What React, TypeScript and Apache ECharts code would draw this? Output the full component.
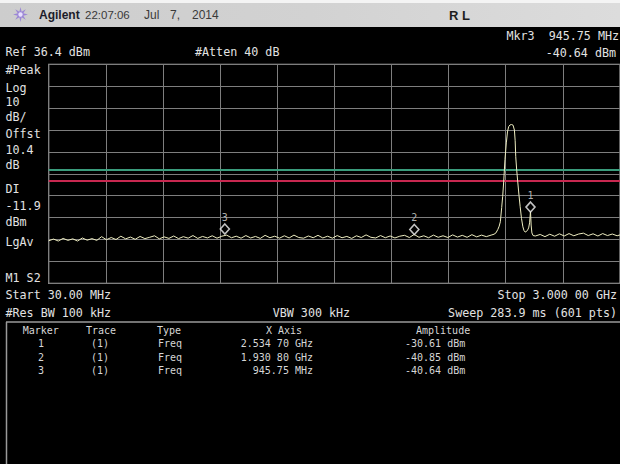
import React, { useEffect, useRef } from "react";
import * as echarts from "echarts";

// ---- data ----
const traceFreqMHz = [
  30, 55, 80, 105, 130, 155, 180, 205, 230, 255, 280, 305, 330, 355, 380, 405, 430, 455, 480, 505,
  530, 555, 580, 605, 630, 655, 680, 705, 730, 755, 780, 805, 830, 855, 880, 905, 930, 955, 980, 1005,
  1030, 1055, 1080, 1105, 1130, 1155, 1180, 1205, 1230, 1255, 1280, 1305, 1330, 1355, 1380, 1405, 1430, 1455, 1480, 1505,
  1530, 1555, 1580, 1605, 1630, 1655, 1680, 1705, 1730, 1755, 1780, 1805, 1830, 1855, 1880, 1905, 1930, 1955, 1980, 2005,
  2030, 2055, 2080, 2105, 2130, 2155, 2180, 2205, 2230, 2255, 2280, 2305, 2330, 2345, 2355, 2365, 2372, 2378, 2385, 2390,
  2395, 2402, 2409, 2415, 2421, 2428, 2436, 2444, 2451, 2455, 2458, 2463, 2469, 2475, 2481, 2488, 2495, 2501, 2507, 2513,
  2520, 2525, 2530, 2534.7, 2538, 2542, 2548, 2560, 2585, 2610, 2635, 2660, 2685, 2710, 2735, 2760, 2785, 2810, 2835, 2860,
  2885, 2910, 2935, 2960, 2985, 3000,
];
const traceDbm = [
  -44.2, -43.4, -44.3, -43.1, -44.0, -43.3, -44.3, -42.9, -43.9, -43.2, -44.0, -42.3, -43.7, -42.7, -43.6, -42.1, -43.3, -42.5, -43.5, -42.2,
  -43.2, -42.6, -41.9, -43.3, -42.4, -43.1, -42.0, -43.2, -42.3, -43.0, -41.8, -43.1, -42.2, -42.9, -41.9, -43.0, -42.1, -41.6, -42.8, -42.1,
  -43.0, -41.8, -42.9, -42.2, -43.1, -41.7, -42.8, -42.1, -43.0, -41.9, -42.9, -41.6, -42.7, -43.0, -42.0, -42.8, -41.7, -42.9, -42.1, -43.0,
  -41.8, -42.8, -42.2, -43.1, -41.9, -42.7, -41.5, -42.6, -42.9, -41.8, -42.8, -42.0, -42.9, -42.1, -41.7, -42.7, -41.3, -42.6, -41.9, -42.8,
  -41.6, -42.6, -41.9, -42.7, -41.5, -42.5, -41.7, -42.6, -41.4, -42.4, -41.6, -42.3, -41.6, -41.2, -40.6, -39.0, -37.5, -35.5, -29.0, -24.0,
  -17.8, -7.0, 0.5, 5.5, 7.9, 8.7, 8.9, 8.6, 6.4, 1.5, -5.8, -12.0, -17.8, -23.5, -28.6, -34.0, -37.8, -39.5, -40.2, -40.0,
  -39.2, -38.3, -36.0, -30.61, -37.0, -40.6, -41.8, -42.0, -41.3, -42.3, -41.2, -42.1, -41.0, -42.0, -40.9, -41.9, -41.1, -40.7, -41.8, -41.0,
  -42.0, -40.9, -41.8, -41.1, -41.9, -41.5,
];

const markerIds = ["1", "2", "3"];
const markerFreqMHz = [2534.7, 1930.8, 945.75];
const markerDbm = [-30.61, -40.85, -40.64];
const markerTrace = ["(1)", "(1)", "(1)"];
const markerType = ["Freq", "Freq", "Freq"];
const markerXText = ["2.534 70 GHz", "1.930 80 GHz", "945.75 MHz"];
const markerAmpText = ["-30.61 dBm", "-40.85 dBm", "-40.64 dBm"];

const refLevelDbm = 36.4;
const dbPerDiv = 10;
const startMHz = 30;
const stopMHz = 3000;
const displayLineDbm = -11.9;
const limitLineDbm = -16.8;

const leftLabels = ["#Peak", "Log", "10", "dB/", "Offst", "10.4", "dB", "DI", "-11.9", "dBm", "LgAv", "M1 S2"];
const leftLabelY = [70, 87.5, 102, 116.5, 133.5, 149.5, 165, 189, 205.5, 221.5, 242, 278];

const MONO = "'DejaVu Sans Mono', 'Liberation Mono', monospace";
const SANS = "'Liberation Sans', Arial, sans-serif";

function txt(text: string, x: number, y: number, opts: any = {}) {
  return {
    type: "text",
    x,
    y,
    silent: true,
    style: {
      text,
      fill: opts.fill || "#e2e2e2",
      font: opts.font || `11.7px ${MONO}`,
      textAlign: opts.align || "left",
      textVerticalAlign: "middle",
    },
  };
}

export default function App() {
  const ref = useRef<HTMLDivElement>(null);
  useEffect(() => {
    if (!ref.current) return;
    const chart = echarts.init(ref.current, undefined, { renderer: "svg" });

    const graphics: any[] = [];
    // top bar
    graphics.push({
      type: "rect",
      shape: { x: 0, y: 0, width: 620, height: 3 },
      style: { fill: "#f4f4f4" },
      silent: true,
    });
    graphics.push({
      type: "rect",
      shape: { x: 0, y: 3, width: 620, height: 24 },
      style: {
        fill: new echarts.graphic.LinearGradient(0, 0, 1, 0, [
          { offset: 0, color: "#cdcdcd" },
          { offset: 0.5, color: "#d2d2d2" },
          { offset: 1, color: "#dcdcdc" },
        ]),
      },
      silent: true,
    });
    // icon (star burst)
    const cx = 20.5, cy = 14.5;
    const pts: number[][] = [];
    for (let i = 0; i < 16; i++) {
      const r = i % 2 === 0 ? 7.5 : 3;
      const a = (Math.PI * 2 * i) / 16 - Math.PI / 2;
      pts.push([cx + r * Math.cos(a), cy + r * Math.sin(a)]);
    }
    graphics.push({ type: "polygon", shape: { points: pts }, style: { fill: "#9b86d6" }, silent: true });
    graphics.push({ type: "circle", shape: { cx, cy, r: 2.2 }, style: { fill: "#e8e0ff" }, silent: true });
    graphics.push(txt("Agilent", 39, 15, { fill: "#1c1c2a", font: `bold 12px ${SANS}` }));
    graphics.push(txt("22:07:06", 85, 15, { fill: "#3a3a3a", font: `11.5px ${SANS}` }));
    graphics.push(txt("Jul", 144, 15, { fill: "#3a3a3a", font: `12px ${SANS}` }));
    graphics.push(txt("7,", 170, 15, { fill: "#3a3a3a", font: `12px ${SANS}` }));
    graphics.push(txt("2014", 192, 15, { fill: "#3a3a3a", font: `12px ${SANS}` }));
    graphics.push(txt("R L", 449, 15, { fill: "#1e1e1e", font: `bold 13px ${SANS}` }));

    // header texts
    graphics.push(txt("Mkr3  945.75 MHz", 619, 35.5, { align: "right" }));
    graphics.push(txt("-40.64 dBm", 616, 52.5, { align: "right" }));
    graphics.push(txt(`Ref ${refLevelDbm} dBm`, 5.5, 51.5));
    graphics.push(txt("#Atten 40 dB", 195, 51.5));
    leftLabels.forEach((t, i) => graphics.push(txt(t, 5.5, leftLabelY[i])));

    // footer texts
    graphics.push(txt("Start 30.00 MHz", 5.5, 295));
    graphics.push(txt("Stop 3.000 00 GHz", 617, 295, { align: "right" }));
    graphics.push(txt("#Res BW 100 kHz", 5.5, 313));
    graphics.push(txt("VBW 300 kHz", 272.7, 313));
    graphics.push(txt("Sweep 283.9 ms (601 pts)", 617, 313, { align: "right" }));

    // table frame
    graphics.push({
      type: "line",
      shape: { x1: 6, y1: 322, x2: 620, y2: 322 },
      style: { stroke: "#9a9a9a", lineWidth: 1.5 },
      silent: true,
    });
    graphics.push({
      type: "line",
      shape: { x1: 6.5, y1: 322, x2: 6.5, y2: 464 },
      style: { stroke: "#9a9a9a", lineWidth: 1.5 },
      silent: true,
    });
    const tf = `10px ${MONO}`;
    const tc = "#d6d6d6";
    graphics.push(txt("Marker", 22.7, 330.5, { font: tf, fill: tc }));
    graphics.push(txt("Trace", 86, 330.5, { font: tf, fill: tc }));
    graphics.push(txt("Type", 157, 330.5, { font: tf, fill: tc }));
    graphics.push(txt("X Axis", 266, 330.5, { font: tf, fill: tc }));
    graphics.push(txt("Amplitude", 416, 330.5, { font: tf, fill: tc }));
    const rowY = [343.5, 357, 370.5];
    markerIds.forEach((id, i) => {
      graphics.push(txt(id, 41, rowY[i], { font: tf, fill: tc, align: "center" }));
      graphics.push(txt(markerTrace[i], 91, rowY[i], { font: tf, fill: tc }));
      graphics.push(txt(markerType[i], 158, rowY[i], { font: tf, fill: tc }));
      graphics.push(txt(markerXText[i], 313, rowY[i], { font: tf, fill: tc, align: "right" }));
      graphics.push(txt(markerAmpText[i], 405, rowY[i], { font: tf, fill: tc }));
    });

    const gridLine = { show: true, lineStyle: { color: "#7e7e7e", width: 1 } };
    const hidden = { show: false };

    chart.setOption({
      animation: false,
      backgroundColor: "#000000",
      grid: {
        left: 48.7,
        top: 64.3,
        width: 573,
        height: 219,
        show: true,
        borderColor: "#a6a6a6",
        borderWidth: 1.2,
        backgroundColor: "transparent",
      },
      xAxis: [
        {
          type: "value",
          min: startMHz,
          max: stopMHz,
          axisLine: hidden,
          axisTick: hidden,
          axisLabel: hidden,
          splitLine: hidden,
        },
        {
          type: "value",
          min: 0,
          max: 10,
          interval: 1,
          position: "bottom",
          axisLine: hidden,
          axisTick: hidden,
          axisLabel: hidden,
          splitLine: gridLine,
        },
      ],
      yAxis: [
        {
          type: "value",
          min: refLevelDbm - 10 * dbPerDiv,
          max: refLevelDbm,
          axisLine: hidden,
          axisTick: hidden,
          axisLabel: hidden,
          splitLine: hidden,
        },
        {
          type: "value",
          min: 0,
          max: 10,
          interval: 1,
          axisLine: hidden,
          axisTick: hidden,
          axisLabel: hidden,
          splitLine: gridLine,
        },
      ],
      series: [
        {
          type: "line",
          xAxisIndex: 0,
          yAxisIndex: 0,
          showSymbol: false,
          data: traceFreqMHz.map((f, i) => [f, traceDbm[i]]),
          lineStyle: { color: "#eeedc0", width: 1 },
          silent: true,
          z: 3,
          markLine: {
            silent: true,
            symbol: "none",
            label: { show: false },
            z: 2,
            data: [
              { yAxis: displayLineDbm, lineStyle: { color: "#3a9c7c", width: 2, type: "solid" } },
              { yAxis: limitLineDbm, lineStyle: { color: "#c82850", width: 2, type: "solid" } },
            ],
          },
        },
        {
          type: "scatter",
          xAxisIndex: 0,
          yAxisIndex: 0,
          symbol: "diamond",
          symbolSize: [9, 10],
          symbolOffset: [0, -4],
          itemStyle: { color: "#000000", borderColor: "#f2f2f2", borderWidth: 1.6 },
          data: markerFreqMHz.map((f, i) => ({ value: [f, markerDbm[i]], name: markerIds[i] })),
          label: {
            show: true,
            position: "top",
            distance: 1,
            formatter: (p: any) => p.name,
            color: "#dcdcdc",
            fontSize: 10,
            fontFamily: MONO,
          },
          silent: true,
          z: 4,
        },
      ],
      graphic: graphics,
    });

    return () => chart.dispose();
  }, []);

  return (
    <div
      ref={ref}
      style={{ position: "fixed", left: 0, top: 0, width: 620, height: 464, background: "#000" }}
    />
  );
}
